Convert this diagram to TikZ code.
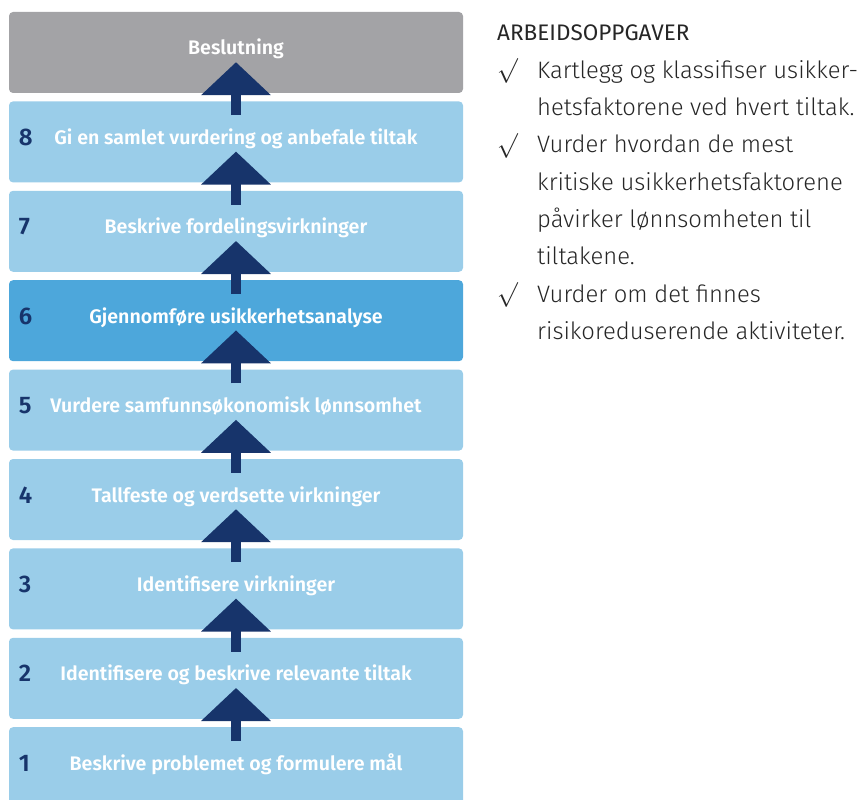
\documentclass[tikz,border=0pt]{standalone}
\usepackage{fontspec}
\setmainfont{Fira Sans}[UprightFont=* Light, BoldFont=* SemiBold]
\newfontfamily\headfont{Fira Sans}
\usetikzlibrary{positioning,arrows.meta}

\definecolor{stepgray}{HTML}{A3A3A6}
\definecolor{steplight}{HTML}{9ACDE9}
\definecolor{stepmid}{HTML}{4DA7DB}
\definecolor{navy}{HTML}{17346B}
\definecolor{inkgray}{HTML}{262626}

\newcommand{\chk}{\makebox[40pt][l]{\raisebox{1pt}{\fontsize{26}{26}\selectfont$\surd$}}}
\newcommand{\ind}{\makebox[40pt][l]{}}

\begin{document}
\begin{tikzpicture}[x=1pt,y=-1pt,
  every node/.style={inner sep=0pt},
  stepbox/.style={rectangle, rounded corners=4pt, fill=steplight, minimum width=454pt, minimum height=81pt,
    text=white, font=\fontsize{19.6}{22}\selectfont\bfseries, text height=10pt, text depth=5pt},
  stepnum/.style={text=navy, font=\fontsize{24}{26}\selectfont\bfseries},
  uparrow/.style={draw=navy, line width=10pt, -{Triangle[length=33pt,width=68pt]}}]
\useasboundingbox (0,0) rectangle (860,800);

% the steps, from the decision down to step 1
\node[stepbox, fill=stepgray] (dec) at (236,52.5) {Beslutning};
\node[stepbox, below=8pt of dec] (b8) {Gi en samlet vurdering og anbefale tiltak};
\node[stepbox, below=8pt of b8] (b7) {Beskrive fordelingsvirkninger};
\node[stepbox, below=8pt of b7, fill=stepmid] (b6) {Gjennomføre usikkerhetsanalyse};
\node[stepbox, below=8pt of b6] (b5) {Vurdere samfunnsøkonomisk lønnsomhet};
\node[stepbox, below=8pt of b5] (b4) {Tallfeste og verdsette virkninger};
\node[stepbox, below=8pt of b4] (b3) {Identifisere virkninger};
\node[stepbox, below=8pt of b3] (b2) {Identifisere og beskrive relevante tiltak};
\node[stepbox, below=8pt of b2] (b1) {Beskrive problemet og formulere mål};

% numbers and arrows
\foreach \i in {1,...,8}
  \node[stepnum, anchor=base west] (n\i) at ([xshift=10pt,yshift=-1pt]b\i.base west) {\i};
\foreach \lo/\hi in {b1/b2,b2/b3,b3/b4,b4/b5,b5/b6,b6/b7,b7/b8,b8/dec}
  \draw[uparrow] ([yshift=-14pt]\lo.north) -- ([yshift=31pt]\hi.south);

% task list
\node[anchor=north west, align=left, text=inkgray, font=\fontsize{23.8}{37.3}\selectfont] (tasks) at (497,25)
  {{\headfont\fontsize{22.5}{37.3}\selectfont ARBEIDSOPPGAVER}\\
   \chk Kartlegg og klassifiser usikker-\\
   \ind hetsfaktorene ved hvert tiltak.\\
   \chk Vurder hvordan de mest\\
   \ind kritiske usikkerhetsfaktorene\\
   \ind påvirker lønnsomheten til\\
   \ind tiltakene.\\
   \chk Vurder om det finnes\\
   \ind risikoreduserende aktiviteter.};
\end{tikzpicture}
\end{document}
